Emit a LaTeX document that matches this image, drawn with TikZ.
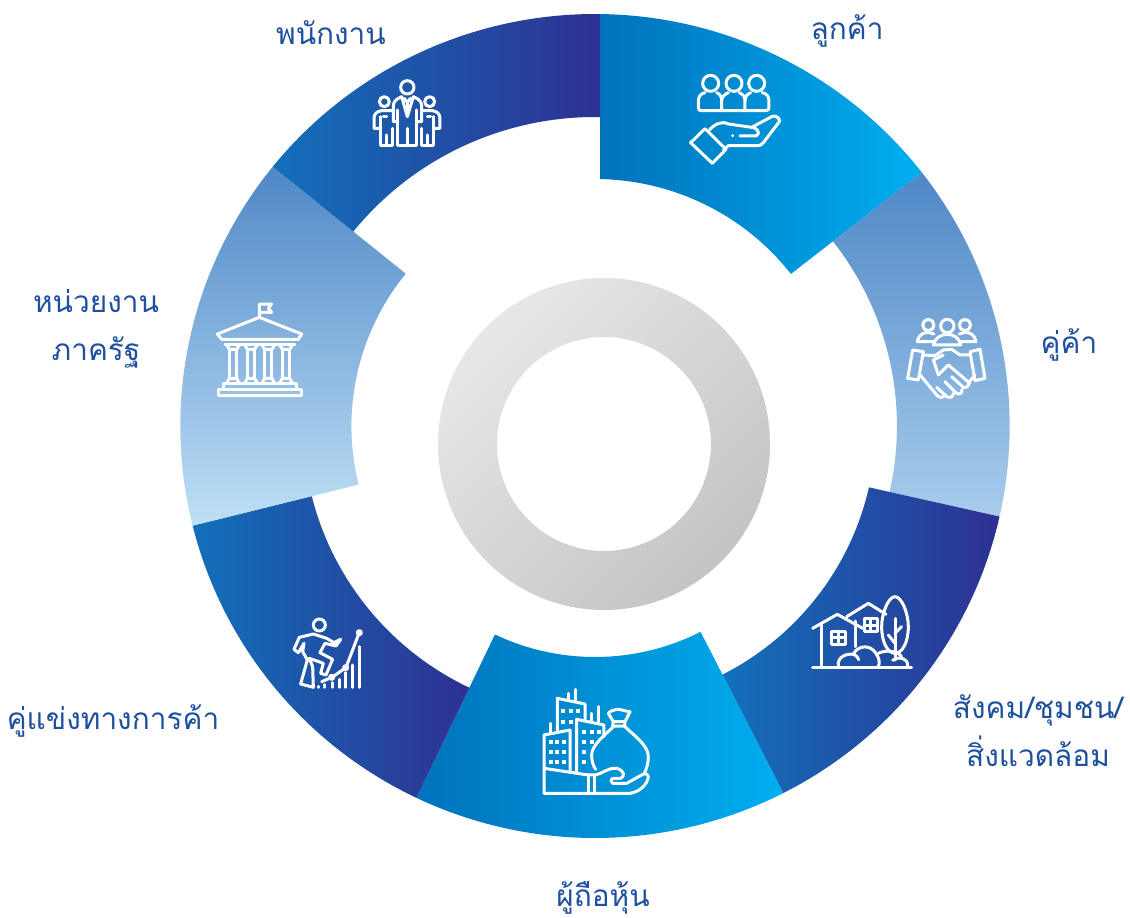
\documentclass[tikz,border=0pt]{standalone}
\usepackage{fontspec}
\newfontfamily\thaifont[Script=Thai]{Loma}
\definecolor{bluea}{HTML}{0072BC}
\definecolor{blueb}{HTML}{00AEEF}
\definecolor{darka}{HTML}{1270BA}
\definecolor{darkb}{HTML}{2E3192}
\definecolor{lighta}{HTML}{4F88C7}
\definecolor{lightb}{HTML}{A8CCEC}
\definecolor{paleb}{HTML}{BFE0F6}
\definecolor{ringa}{HTML}{E6E7E9}
\definecolor{ringb}{HTML}{C3C4C6}
\definecolor{labelblue}{HTML}{1F4F9F}
\tikzstyle{bluewedge}=[left color=bluea,right color=blueb]
\tikzstyle{darkwedge}=[left color=darka,right color=darkb]
\tikzstyle{lightwedge}=[top color=lighta,bottom color=lightb]
\tikzstyle{palewedge}=[top color=lighta,bottom color=paleb]
\tikzstyle{iconline}=[white,line width=3pt,line join=round,line cap=round]
\tikzstyle{zoomed}=[x=0.3333pt,y=-0.3333pt]
\tikzstyle{stakeholder}=[text=labelblue,align=center,inner sep=0pt,font=\thaifont\fontsize{29.8}{48}\selectfont]

\begin{document}
\begin{tikzpicture}[x=1pt,y=1pt]
    \useasboundingbox (0,0) rectangle (1130,-918);

    % First we draw the seven wedges
    \foreach \start/\stop/\instart/\instop/\rad/\look in {89.3/38/88.84/38/247/bluewedge, 38/-12.7/38/-12.7/300/lightwedge, -12.7/-63/-12.7/-63/279/darkwedge, -63/-115.5/-63/-115.5/231/bluewedge, -115.5/-166/-115.5/-166/290/darkwedge, -166/-219/-166/-219/242/palewedge, -219/-270.7/-219/-270.93/309/darkwedge}
        \path[\look,shift={(595,-426)},xscale=1.0065] (\start:412) arc (\start:\stop:412) -- (\instop:\rad) arc (\instop:\instart:\rad) -- cycle;

    % The grey ring in the middle
    \path[even odd rule,top color=ringa,bottom color=ringb,shading angle=45] (604,-444) circle (166) (604,-444) circle (107);

    % Labels
    \node[stakeholder] (employee) at (331,-33) {พนักงาน};
    \node[stakeholder] (customer) at (847,-31) {ลูกค้า};
    \node[stakeholder] (partner) at (1069,-345) {คู่ค้า};
    \node[stakeholder] (society) at (1038,-731) {สังคม/ชุมชน/\\สิ่งแวดล้อม};
    \node[stakeholder] (holder) at (603,-898) {ผู้ถือหุ้น};
    \node[stakeholder] (rival) at (113,-721) {คู่แข่งทางการค้า};
    \node[stakeholder] (state) at (96,-329) {หน่วยงาน\\ภาครัฐ};

    % Customers
    \begin{scope}[shift={(660,-50)},zoomed,iconline]
        \foreach \cx in {152,222,290}
            \draw (\cx,100) circle (24);
        \draw (135,128) .. controls (122,130) and (115,140) .. (115,155) -- (115,172) .. controls (115,180) and (118,182) .. (125,182) -- (317,182) .. controls (325,182) and (327,178) .. (327,172) -- (327,155) .. controls (327,140) and (320,130) .. (307,128);
        \draw (170,128) .. controls (180,132) and (185,140) .. (185,152) -- (185,182);
        \draw (205,128) .. controls (195,132) and (185,140) .. (185,152);
        \draw (238,128) .. controls (248,132) and (255,140) .. (255,152) -- (255,182);
        \draw (272,128) .. controls (262,132) and (255,140) .. (255,152);
        \draw (135,236) -- (198,298) -- (157,340) -- (92,278) -- cycle;
        \draw (148,240) .. controls (165,222) and (185,212) .. (205,222) -- (275,232) -- (335,200) .. controls (345,193) and (362,205) .. (358,215) -- (310,278) .. controls (305,285) and (300,287) .. (290,287) -- (205,287) -- (190,300);
        \draw (240,258) -- (285,258) .. controls (297,258) and (302,240) .. (280,233);
        \fill (218,257) circle (5);
    \end{scope}

    % Staff
    \begin{scope}[shift={(350,-60)},zoomed,iconline]
        \draw (172,82) circle (20);
        \draw (143,150) -- (143,258) -- (200,258) -- (200,150);
        \draw (172,205) -- (172,258);
        \draw (143,185) -- (130,185) -- (130,135) .. controls (132,120) and (145,115) .. (155,110) -- (172,170) -- (190,110) .. controls (200,115) and (213,120) .. (215,135) -- (215,185) -- (200,185);
        \draw (163,115) -- (172,128) -- (181,115);
        \draw (172,128) -- (172,165);
        \draw (103,125) circle (15);
        \draw (130,152) -- (95,152) .. controls (80,154) and (72,162) .. (72,175) -- (72,205) -- (90,205);
        \draw (90,170) -- (90,258) -- (128,258) -- (128,205);
        \draw (108,225) -- (108,258);
        \draw (100,170) -- (110,170);
        \draw (239,125) circle (15);
        \draw (215,152) -- (247,152) .. controls (262,154) and (270,162) .. (270,175) -- (270,205) -- (252,205);
        \draw (252,170) -- (252,258) -- (214,258) -- (214,205);
        \draw (234,225) -- (234,258);
        \draw (232,170) -- (242,170);
    \end{scope}

    % Partners
    \begin{scope}[shift={(890,-300)},zoomed,iconline]
        \draw (115,75) circle (17);
        \draw (172,78) circle (20);
        \draw (225,75) circle (17);
        \draw (130,135) .. controls (135,112) and (155,103) .. (172,103) .. controls (190,103) and (207,112) .. (212,135) -- cycle;
        \draw (135,125) -- (82,125) .. controls (85,105) and (100,97) .. (115,97) -- (132,102);
        \draw (207,125) -- (258,125) .. controls (255,105) and (240,97) .. (225,97) -- (208,102);
        \draw (68,150) -- (100,155) -- (85,240) -- (53,235) -- cycle;
        \draw (240,155) -- (270,148) -- (285,235) -- (255,242) -- cycle;
        \draw (100,165) -- (135,167) -- (160,150) -- (185,148) -- (210,165) -- (240,165);
        \draw (160,165) -- (130,180) -- (145,225) -- (175,195) -- (240,250);
        \draw (88,222) -- (140,285) .. controls (148,295) and (160,295) .. (165,283);
        \draw (140,262) -- (170,290) .. controls (178,295) and (190,293) .. (190,280);
        \draw (165,245) -- (200,280) .. controls (208,285) and (218,280) .. (216,268);
        \draw (185,230) -- (220,262) .. controls (228,265) and (238,258) .. (236,248);
        \draw (255,225) -- (236,248);
    \end{scope}

    % State agencies
    \begin{scope}[shift={(200,-290)},zoomed,iconline]
        \draw (178,82) -- (178,42) -- (215,42) -- (205,55) -- (215,67) -- (178,67);
        \draw (178,82) -- (305,132) -- (295,148) -- (65,148) -- (52,132) -- cycle;
        \draw (75,165) -- (285,165);
        \foreach \cx in {99,153,205,258} {
            \draw (\cx-11,178) -- (\cx-11,265) (\cx+11,178) -- (\cx+11,265);
            \draw (\cx-19,165) -- (\cx-11,178) -- (\cx+11,178) -- (\cx+19,165);
            \draw (\cx-19,280) -- (\cx-11,265) -- (\cx+11,265) -- (\cx+19,280);
        }
        \draw (70,298) -- (70,280) -- (290,280) -- (290,298);
        \draw (55,298) rectangle (305,318);
    \end{scope}

    % Society and environment
    \begin{scope}[shift={(800,-585)},zoomed,iconline]
        \draw (38,248) -- (335,248);
        \draw (38,130) -- (112,88) -- (188,130);
        \draw (65,120) -- (65,248);
        \draw (140,95) -- (205,55) -- (258,88);
        \draw (165,108) -- (165,185);
        \draw (95,138) rectangle (135,178) (115,138) -- (115,178) (95,158) -- (135,158);
        \draw (192,100) rectangle (232,140) (212,100) -- (212,140) (192,120) -- (232,120);
        \draw (115,245) .. controls (110,215) and (140,205) .. (160,208) .. controls (172,180) and (215,175) .. (232,212) .. controls (240,225) and (238,238) .. (235,245);
        \draw (160,208) .. controls (170,212) and (175,218) .. (176,224);
        \draw (235,205) .. controls (255,195) and (290,195) .. (305,215);
        \draw (278,226) .. controls (300,210) and (330,225) .. (322,248);
        \draw (285,35) .. controls (305,35) and (325,85) .. (325,125) .. controls (325,175) and (305,205) .. (285,205) .. controls (265,205) and (245,175) .. (245,125) .. controls (245,85) and (265,35) .. (285,35) -- cycle;
        \draw (285,100) -- (285,225);
        \draw (265,150) -- (285,175);
        \draw (305,125) -- (285,145);
    \end{scope}

    % Shareholders
    \begin{scope}[shift={(530,-680)},zoomed,iconline]
        \draw (42,265) -- (42,340) -- (300,340) .. controls (330,335) and (350,315) .. (355,292) .. controls (355,282) and (345,278) .. (335,285) -- (290,310) -- (248,310) .. controls (238,300) and (245,295) .. (255,295) -- (272,295) .. controls (285,290) and (285,272) .. (260,265) .. controls (235,262) and (220,280) .. (195,285) -- (175,285) -- (42,265);
        \draw (175,285) -- (175,340);
        \draw (195,285) -- (195,340);
        \draw (42,265) -- (42,165) -- (120,150) -- (120,272);
        \draw (62,130) -- (62,160);
        \draw (82,150) -- (82,55) -- (165,72) -- (165,118);
        \draw (115,40) -- (115,60);
        \draw (135,28) -- (135,65);
        \draw (140,275) -- (140,118) -- (222,135) -- (222,170);
        \draw (185,100) -- (185,125);
        \draw (205,80) -- (205,130);
        \foreach \wx/\wy in {62/185,82/185,102/185,62/215,82/215,102/215,62/245,82/245,102/245,100/92,122/92,145/92,100/125,122/125,162/155,185/155,207/155,162/185,185/185,162/215,162/245}
            \fill (\wx-6,\wy-6) rectangle (\wx+6,\wy+6);
        \draw (250,125) -- (235,100) .. controls (245,88) and (255,92) .. (262,88) .. controls (275,88) and (290,95) .. (300,95) -- (285,125) -- cycle;
        \draw (248,138) -- (285,138) (250,125) -- (248,138) (285,125) -- (285,138);
        \draw (250,140) .. controls (225,165) and (185,195) .. (185,225) .. controls (185,245) and (190,258) .. (197,268);
        \draw (285,140) .. controls (310,165) and (355,195) .. (355,230) .. controls (355,250) and (350,265) .. (343,280);
    \end{scope}

    % Competitors
    \begin{scope}[shift={(280,-610)},zoomed,iconline]
        \draw (118,45) circle (18);
        \draw (42,118) -- (58,82) -- (100,72) -- (140,85) -- (162,98) -- (182,88) -- (168,108) -- (135,100) -- (120,128) -- (158,148) -- (138,195) -- (122,190) -- (130,160) -- (88,145) -- (98,170) -- (100,232) -- (62,222) -- (82,150) -- (68,125) -- (72,100) -- (55,128) -- cycle;
        \foreach \dotx/\doty in {238/68,197/173,155/202}
            \draw (\dotx,\doty) circle (6);
        \draw (235,75) -- (200,167);
        \draw (190,178) -- (162,198);
        \draw (148,205) -- (125,215);
        \foreach \barx/\bary in {238/110,218/165,198/188,178/208,157/218,135/224,115/229}
            \draw (\barx,\bary) -- (\barx,232);
    \end{scope}
\end{tikzpicture}
\end{document}
